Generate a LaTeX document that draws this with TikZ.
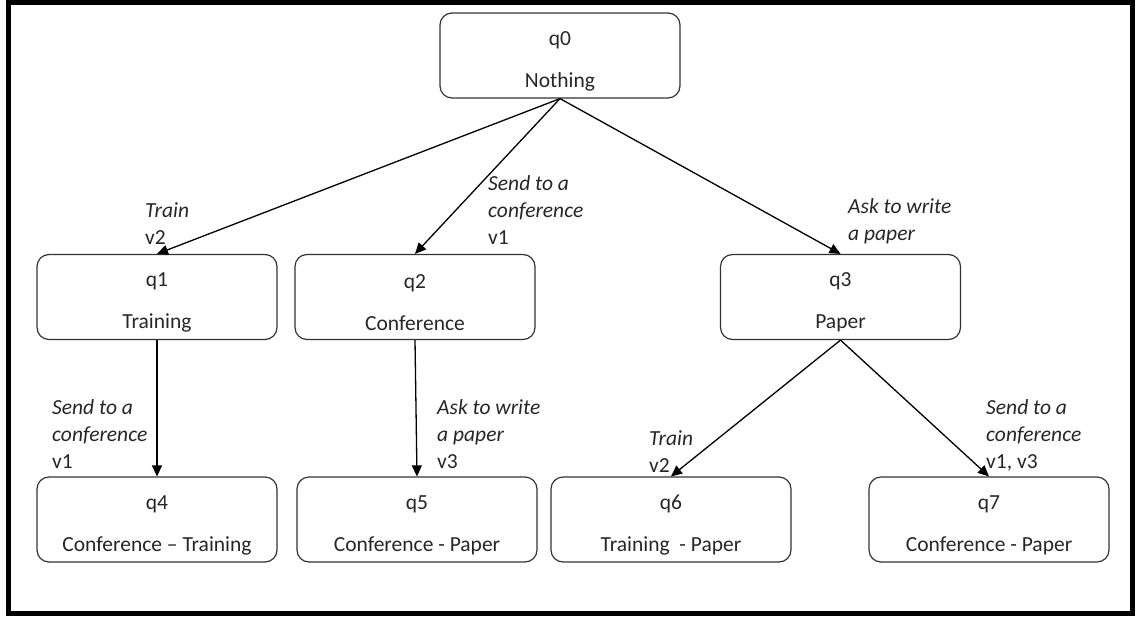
\documentclass[tikz,border=0pt]{standalone}
\usepackage{fontspec}
\setmainfont{Carlito}
\usetikzlibrary{arrows.meta}
% extra room above the first line of a state box
\newcommand{\toproom}{\rule{0pt}{25pt}}
\begin{document}
\begin{tikzpicture}[x=1pt,y=-1pt,
  state/.style={draw=black!80, line width=1.2pt, rounded corners=12pt,
    minimum width=240pt, minimum height=85pt, inner sep=0pt, align=center,
    font=\fontsize{21.5}{42}\selectfont, text=black!85},
  edgelabel/.style={anchor=west, align=left, inner sep=0pt,
    font=\fontsize{21.5}{27}\selectfont, text=black!85},
  trans/.style={line width=1.3pt, -{Triangle[length=11pt,width=10pt]}}]
  \useasboundingbox (0,0) rectangle (1139,616);
  % outer frame
  \draw[line width=5pt] (8.5,2) rectangle (1132,613);

  % states
  \node[state] (q0) at (560,55.5)  {\toproom q0\\Nothing};
  \node[state] (q1) at (157,297)   {\toproom q1\\Training};
  \node[state] (q2) at (415,297)   {\toproom q2\\Conference};
  \node[state] (q3) at (840.5,297) {\toproom q3\\Paper};
  \node[state] (q4) at (157,519.5) {\toproom q4\\Conference -- Training};
  \node[state] (q5) at (417,519.5) {\toproom q5\\Conference - Paper};
  \node[state] (q6) at (671,519.5) {\toproom q6\\Training~ - Paper};
  \node[state] (q7) at (989,519.5) {\toproom q7\\Conference - Paper};

  % transitions
  \draw[trans] (q0.south) -- (q1.north);
  \draw[trans] (q0.south) -- (q2.north);
  \draw[trans] (q0.south) -- (q3.north);
  \draw[trans] (q1.south) -- (q4.north);
  \draw[trans] (q2.south) -- (q5.north);
  \draw[trans] (q3.south) -- (q6.north);
  \draw[trans] (q3.south) -- (q7.north);

  % transition labels
  \node[edgelabel] (l01) at (145,223.5) {\textit{Train}\\v2};
  \node[edgelabel] (l02) at (488,210)   {\textit{Send to a}\\\textit{conference}\\v1};
  \node[edgelabel] (l03) at (848,221.5) {\textit{Ask to write}\\\textit{a paper}};
  \node[edgelabel] (l14) at (52,434)    {\textit{Send to a}\\\textit{conference}\\v1};
  \node[edgelabel] (l25) at (437,434.5) {\textit{Ask to write}\\\textit{a paper}\\v3};
  \node[edgelabel] (l36) at (649,451.5) {\textit{Train}\\v2};
  \node[edgelabel] (l37) at (986,435)   {\textit{Send to a}\\\textit{conference}\\v1, v3};
\end{tikzpicture}
\end{document}
